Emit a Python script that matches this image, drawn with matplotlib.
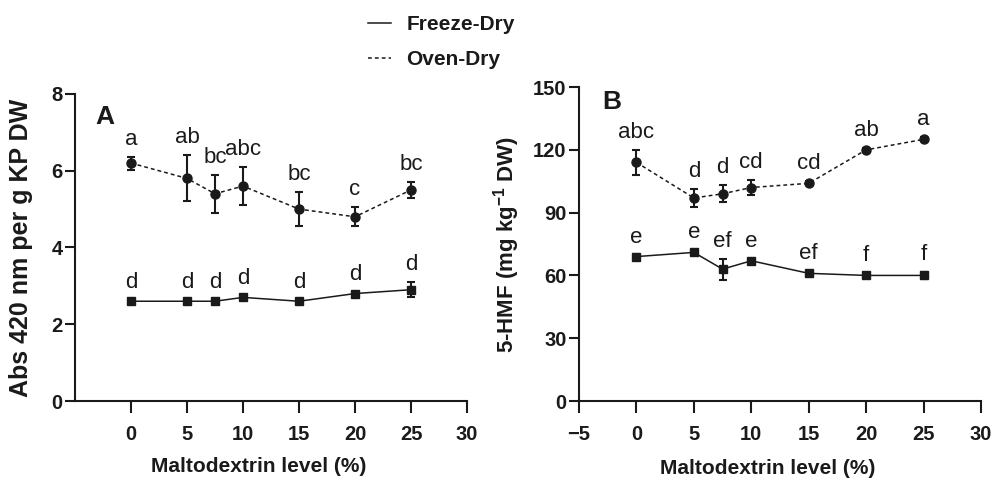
import matplotlib
matplotlib.use("Agg")
import matplotlib.pyplot as plt
from matplotlib import font_manager
from matplotlib.lines import Line2D

md_level = [0, 5, 7.5, 10, 15, 20, 25]

# panel A: Abs 420 nm
abs_oven = [6.2, 5.8, 5.4, 5.6, 5.0, 4.8, 5.5]
abs_oven_err = [0.17, 0.6, 0.49, 0.5, 0.45, 0.25, 0.21]
abs_freeze = [2.6, 2.6, 2.6, 2.7, 2.6, 2.8, 2.9]
abs_freeze_err = [0.03, 0.03, 0.03, 0.03, 0.03, 0.03, 0.19]
abs_oven_grp = ["a", "ab", "bc", "abc", "bc", "c", "bc"]
abs_freeze_grp = ["d", "d", "d", "d", "d", "d", "d"]

# panel B: 5-HMF
hmf_oven = [114, 97, 99, 102, 104, 120, 125]
hmf_oven_err = [6, 4.5, 4, 3.6, 1, 1, 1]
hmf_freeze = [69, 71, 63, 67, 61, 60, 60]
hmf_freeze_err = [1, 1, 5, 1, 1, 1, 1.5]
hmf_oven_grp = ["abc", "d", "d", "cd", "cd", "ab", "a"]
hmf_freeze_grp = ["e", "e", "ef", "e", "ef", "f", "f"]

names = {f.name for f in font_manager.fontManager.ttflist}
FONT = "Liberation Sans Narrow" if "Liberation Sans Narrow" in names else "Liberation Sans"

plt.rcParams["font.family"] = [FONT, "DejaVu Sans"]
plt.rcParams["font.weight"] = "bold"
plt.rcParams["axes.labelweight"] = "bold"
plt.rcParams["mathtext.fontset"] = "custom"
plt.rcParams["mathtext.rm"] = FONT + ":bold"
plt.rcParams["mathtext.bf"] = FONT + ":bold"

INK = "#1a1a1a"
DASH = (0, (2.5, 2))


def panel(ax, oven, oven_err, freeze, freeze_err, oven_grp, freeze_grp):
    ax.errorbar(md_level, freeze, yerr=freeze_err, color=INK, lw=1.1,
                marker="s", ms=6, capsize=3.2, elinewidth=1.5, capthick=1.5)
    ax.errorbar(md_level, oven, yerr=oven_err, color=INK, lw=1.1, ls=DASH,
                marker="o", ms=6.5, capsize=3.2, elinewidth=1.5, capthick=1.5)
    for vals, errs, grps in [(oven, oven_err, oven_grp), (freeze, freeze_err, freeze_grp)]:
        for x, y, e, t in zip(md_level, vals, errs, grps):
            ax.annotate(t, (x, y + e), xytext=(0, 5), textcoords="offset points",
                        ha="center", va="bottom", fontsize=16, fontweight="normal",
                        color=INK)
    for s in ["top", "right"]:
        ax.spines[s].set_visible(False)
    for s in ["left", "bottom"]:
        ax.spines[s].set_linewidth(1.5)
        ax.spines[s].set_color(INK)
    ax.tick_params(direction="out", width=1.5, color=INK,
                   labelsize=14.5, labelcolor=INK)
    ax.tick_params(axis="x", length=8.5, pad=9)
    ax.tick_params(axis="y", length=7, pad=2)
    ax.set_xlim(-5, 30)


fig = plt.figure(figsize=(9.93, 4.79), dpi=100)
ax1 = fig.add_axes([0.0755, 0.1628, 0.3948, 0.641])
ax2 = fig.add_axes([0.5831, 0.1628, 0.4048, 0.6555])

panel(ax1, abs_oven, abs_oven_err, abs_freeze, abs_freeze_err, abs_oven_grp, abs_freeze_grp)
ax1.set_ylim(0, 8)
ax1.set_yticks([0, 2, 4, 6, 8])
ax1.set_xticks([0, 5, 10, 15, 20, 25, 30])
ax1.set_ylabel("Abs 420 nm per g KP DW", fontsize=18, color=INK)
ax1.yaxis.set_label_coords(-0.107, 0.5)
ax1.set_xlabel("Maltodextrin level (%)", fontsize=15, color=INK)
ax1.xaxis.set_label_coords(0.469, -0.182)
ax1.text(0.051, 0.965, "A", transform=ax1.transAxes, ha="left", va="top",
         fontsize=19, color=INK)

panel(ax2, hmf_oven, hmf_oven_err, hmf_freeze, hmf_freeze_err, hmf_oven_grp, hmf_freeze_grp)
ax2.set_ylim(0, 150)
ax2.set_yticks([0, 30, 60, 90, 120, 150])
ax2.set_xticks([-5, 0, 5, 10, 15, 20, 25, 30])
ax2.set_ylabel(r"5-HMF (mg kg$^{-1}$ DW)", fontsize=16, color=INK)
ax2.yaxis.set_label_coords(-0.142, 0.5)
ax2.set_xlabel("Maltodextrin level (%)", fontsize=15, color=INK)
ax2.xaxis.set_label_coords(0.47, -0.185)
ax2.text(0.057, 0.99, "B", transform=ax2.transAxes, ha="left", va="top",
         fontsize=19, color=INK)

handles = [Line2D([], [], color=INK, lw=1.1),
           Line2D([], [], color=INK, lw=1.1, ls=DASH)]
fig.legend(handles, ["Freeze-Dry", "Oven-Dry"], loc="upper left",
           bbox_to_anchor=(0.3706, 0.968), frameon=False, fontsize=15,
           handlelength=1.1, handletextpad=0.75, labelspacing=0.75,
           borderpad=0, borderaxespad=0, labelcolor=INK)

fig.savefig("out.png", dpi=100)
